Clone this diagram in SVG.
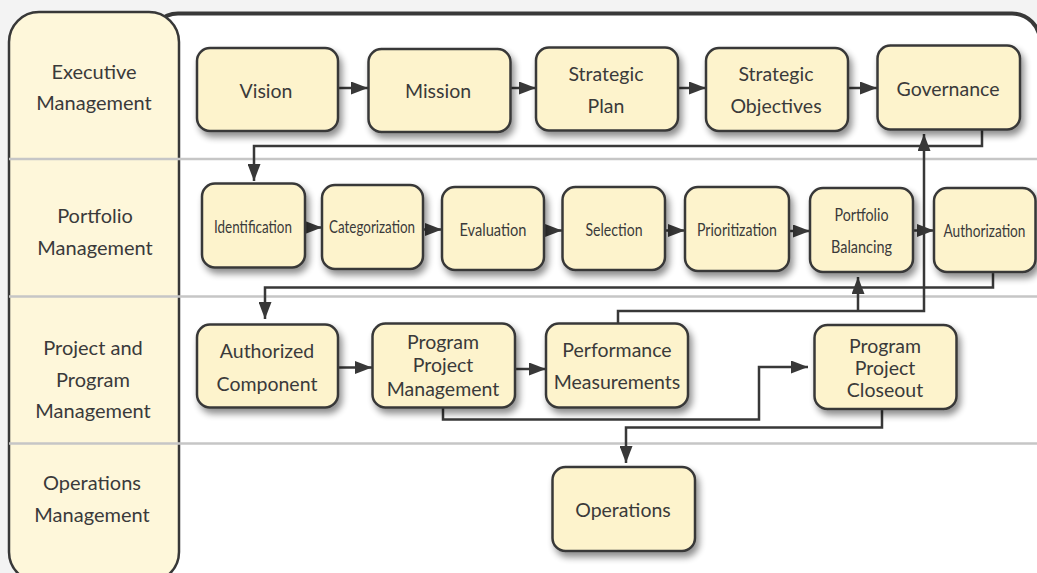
<svg xmlns="http://www.w3.org/2000/svg" width="1037" height="573" viewBox="0 0 1037 573">
<style>
.lbl{font-family:Lato,"Open Sans","Liberation Sans",sans-serif;font-size:20px;fill:#3a3a3a;text-anchor:middle}
.nt{font-family:Lato,"Open Sans","Liberation Sans",sans-serif;font-size:19.5px;fill:#3a3a3a;text-anchor:middle}
.nc{font-family:Lato,"Open Sans","Liberation Sans",sans-serif;font-size:17px;fill:#3a3a3a;text-anchor:middle}
.box{fill:#fdf3cc;stroke:#383838;stroke-width:2.5;filter:url(#sh)}
.sep{stroke:#c6c6c6;stroke-width:2.5}
.con{fill:none;stroke:#383838;stroke-width:2.5;marker-end:url(#ah)}
</style>
<defs>
<filter id="sh" x="-20%" y="-20%" width="150%" height="160%">
<feGaussianBlur in="SourceAlpha" stdDeviation="3.5"/>
<feOffset dx="3" dy="5" result="o"/>
<feComponentTransfer><feFuncA type="linear" slope="0.45"/></feComponentTransfer>
<feMerge><feMergeNode/><feMergeNode in="SourceGraphic"/></feMerge>
</filter>
<marker id="ah" markerUnits="userSpaceOnUse" markerWidth="18" markerHeight="13" refX="17" refY="6.5" orient="auto">
<path d="M0,0 L17,6.5 L0,13 z" fill="#383838"/>
</marker>
</defs>
<rect x="0" y="0" width="1037" height="573" fill="#f3f3f3"/>
<rect id="container" x="150" y="13.5" width="890" height="600" rx="28" fill="#fff" stroke="#383838" stroke-width="4"/>
<g id="lane-header">
<rect x="9" y="12" width="170" height="570" rx="30" fill="#fef7da" stroke="#383838" stroke-width="2.5"/>
</g>
<g id="separators">
<line class="sep" x1="9" y1="159" x2="1037" y2="159"/>
<line class="sep" x1="9" y1="296.5" x2="1037" y2="296.5"/>
<line class="sep" x1="9" y1="443.5" x2="1037" y2="443.5"/>
</g>
<g id="lane-labels">
<text class="lbl" x="94" y="79">Executive</text>
<text class="lbl" x="94" y="110">Management</text>
<text class="lbl" x="95" y="223">Portfolio</text>
<text class="lbl" x="95" y="255">Management</text>
<text class="lbl" x="93" y="355">Project and</text>
<text class="lbl" x="93" y="387">Program</text>
<text class="lbl" x="93" y="418">Management</text>
<text class="lbl" x="92" y="490">Operations</text>
<text class="lbl" x="92" y="522">Management</text>
</g>
<g id="connectors">
<path class="con" d="M338,88 H368"/>
<path class="con" d="M511,88 H536"/>
<path class="con" d="M678,88 H706"/>
<path class="con" d="M848,88 H877"/>
<path class="con" d="M982,129 V146 H254 V181"/>
<path class="con" d="M305,227.5 H322"/>
<path class="con" d="M423,229.5 H442"/>
<path class="con" d="M544,230.5 H562"/>
<path class="con" d="M665,230.5 H685"/>
<path class="con" d="M789,231 H810"/>
<path class="con" d="M913,230.5 H934"/>
<path class="con" d="M618,323 V311 H924 V134"/>
<path class="con" d="M858,311 V277"/>
<path class="con" d="M993,272 V287.5 H265 V319"/>
<path class="con" d="M338,367.5 H372"/>
<path class="con" d="M515,369 H546"/>
<path class="con" d="M443,407 V419.5 H759 V367 H808"/>
<path class="con" d="M882,409 V427.5 H626 V463"/>
</g>
<g id="vision"><rect class="box" x="197" y="48" width="141" height="83" rx="13"/><text class="nt" x="266" y="98">Vision</text></g>
<g id="mission"><rect class="box" x="368.5" y="49" width="142" height="83" rx="13"/><text class="nt" x="438" y="98">Mission</text></g>
<g id="strategic-plan"><rect class="box" x="536" y="47.5" width="142" height="83" rx="13"/><text class="nt" x="606" y="81">Strategic</text><text class="nt" x="606" y="113">Plan</text></g>
<g id="strategic-objectives"><rect class="box" x="706" y="48" width="142" height="83" rx="13"/><text class="nt" x="776" y="81">Strategic</text><text class="nt" x="776" y="113">Objectives</text></g>
<g id="governance"><rect class="box" x="877.5" y="45.5" width="142.5" height="84" rx="13"/><text class="nt" x="948" y="96">Governance</text></g>
<g id="identification"><rect class="box" x="202" y="183.5" width="103" height="84" rx="13"/><text class="nc" x="253" y="233" textLength="78" lengthAdjust="spacingAndGlyphs">Identification</text></g>
<g id="categorization"><rect class="box" x="322" y="185" width="101" height="84" rx="13"/><text class="nc" x="372" y="233" textLength="86" lengthAdjust="spacingAndGlyphs">Categorization</text></g>
<g id="evaluation"><rect class="box" x="442" y="187" width="102" height="83" rx="13"/><text class="nc" x="493" y="235.5" textLength="67" lengthAdjust="spacingAndGlyphs">Evaluation</text></g>
<g id="selection"><rect class="box" x="562.5" y="187" width="102.5" height="83" rx="13"/><text class="nc" x="614" y="235.5" textLength="57" lengthAdjust="spacingAndGlyphs">Selection</text></g>
<g id="prioritization"><rect class="box" x="685" y="187" width="104" height="84" rx="13"/><text class="nc" x="737" y="236" textLength="80" lengthAdjust="spacingAndGlyphs">Prioritization</text></g>
<g id="portfolio-balancing"><rect class="box" x="810" y="188" width="103" height="84" rx="13"/><text class="nc" x="861.5" y="221" textLength="54" lengthAdjust="spacingAndGlyphs">Portfolio</text><text class="nc" x="861.5" y="253" textLength="61" lengthAdjust="spacingAndGlyphs">Balancing</text></g>
<g id="authorization"><rect class="box" x="934" y="188" width="101.5" height="84" rx="13"/><text class="nc" x="984.5" y="236.5" textLength="82" lengthAdjust="spacingAndGlyphs">Authorization</text></g>
<g id="authorized-component"><rect class="box" x="197" y="324.5" width="141" height="83" rx="13"/><text class="nt" x="267" y="358">Authorized</text><text class="nt" x="267" y="390.5">Component</text></g>
<g id="program-project-management"><rect class="box" x="372.5" y="323.5" width="142.5" height="84" rx="13"/><text class="nt" x="443" y="349">Program</text><text class="nt" x="443" y="372">Project</text><text class="nt" x="443" y="396">Management</text></g>
<g id="performance-measurements"><rect class="box" x="546" y="323.5" width="142" height="84" rx="13"/><text class="nt" x="617" y="356.5">Performance</text><text class="nt" x="617" y="389">Measurements</text></g>
<g id="program-project-closeout"><rect class="box" x="814.5" y="325" width="142" height="84" rx="13"/><text class="nt" x="885" y="353">Program</text><text class="nt" x="885" y="375">Project</text><text class="nt" x="885" y="396.5">Closeout</text></g>
<g id="operations"><rect class="box" x="552.5" y="467" width="142.5" height="84" rx="13"/><text class="nt" x="623" y="517">Operations</text></g>
</svg>
